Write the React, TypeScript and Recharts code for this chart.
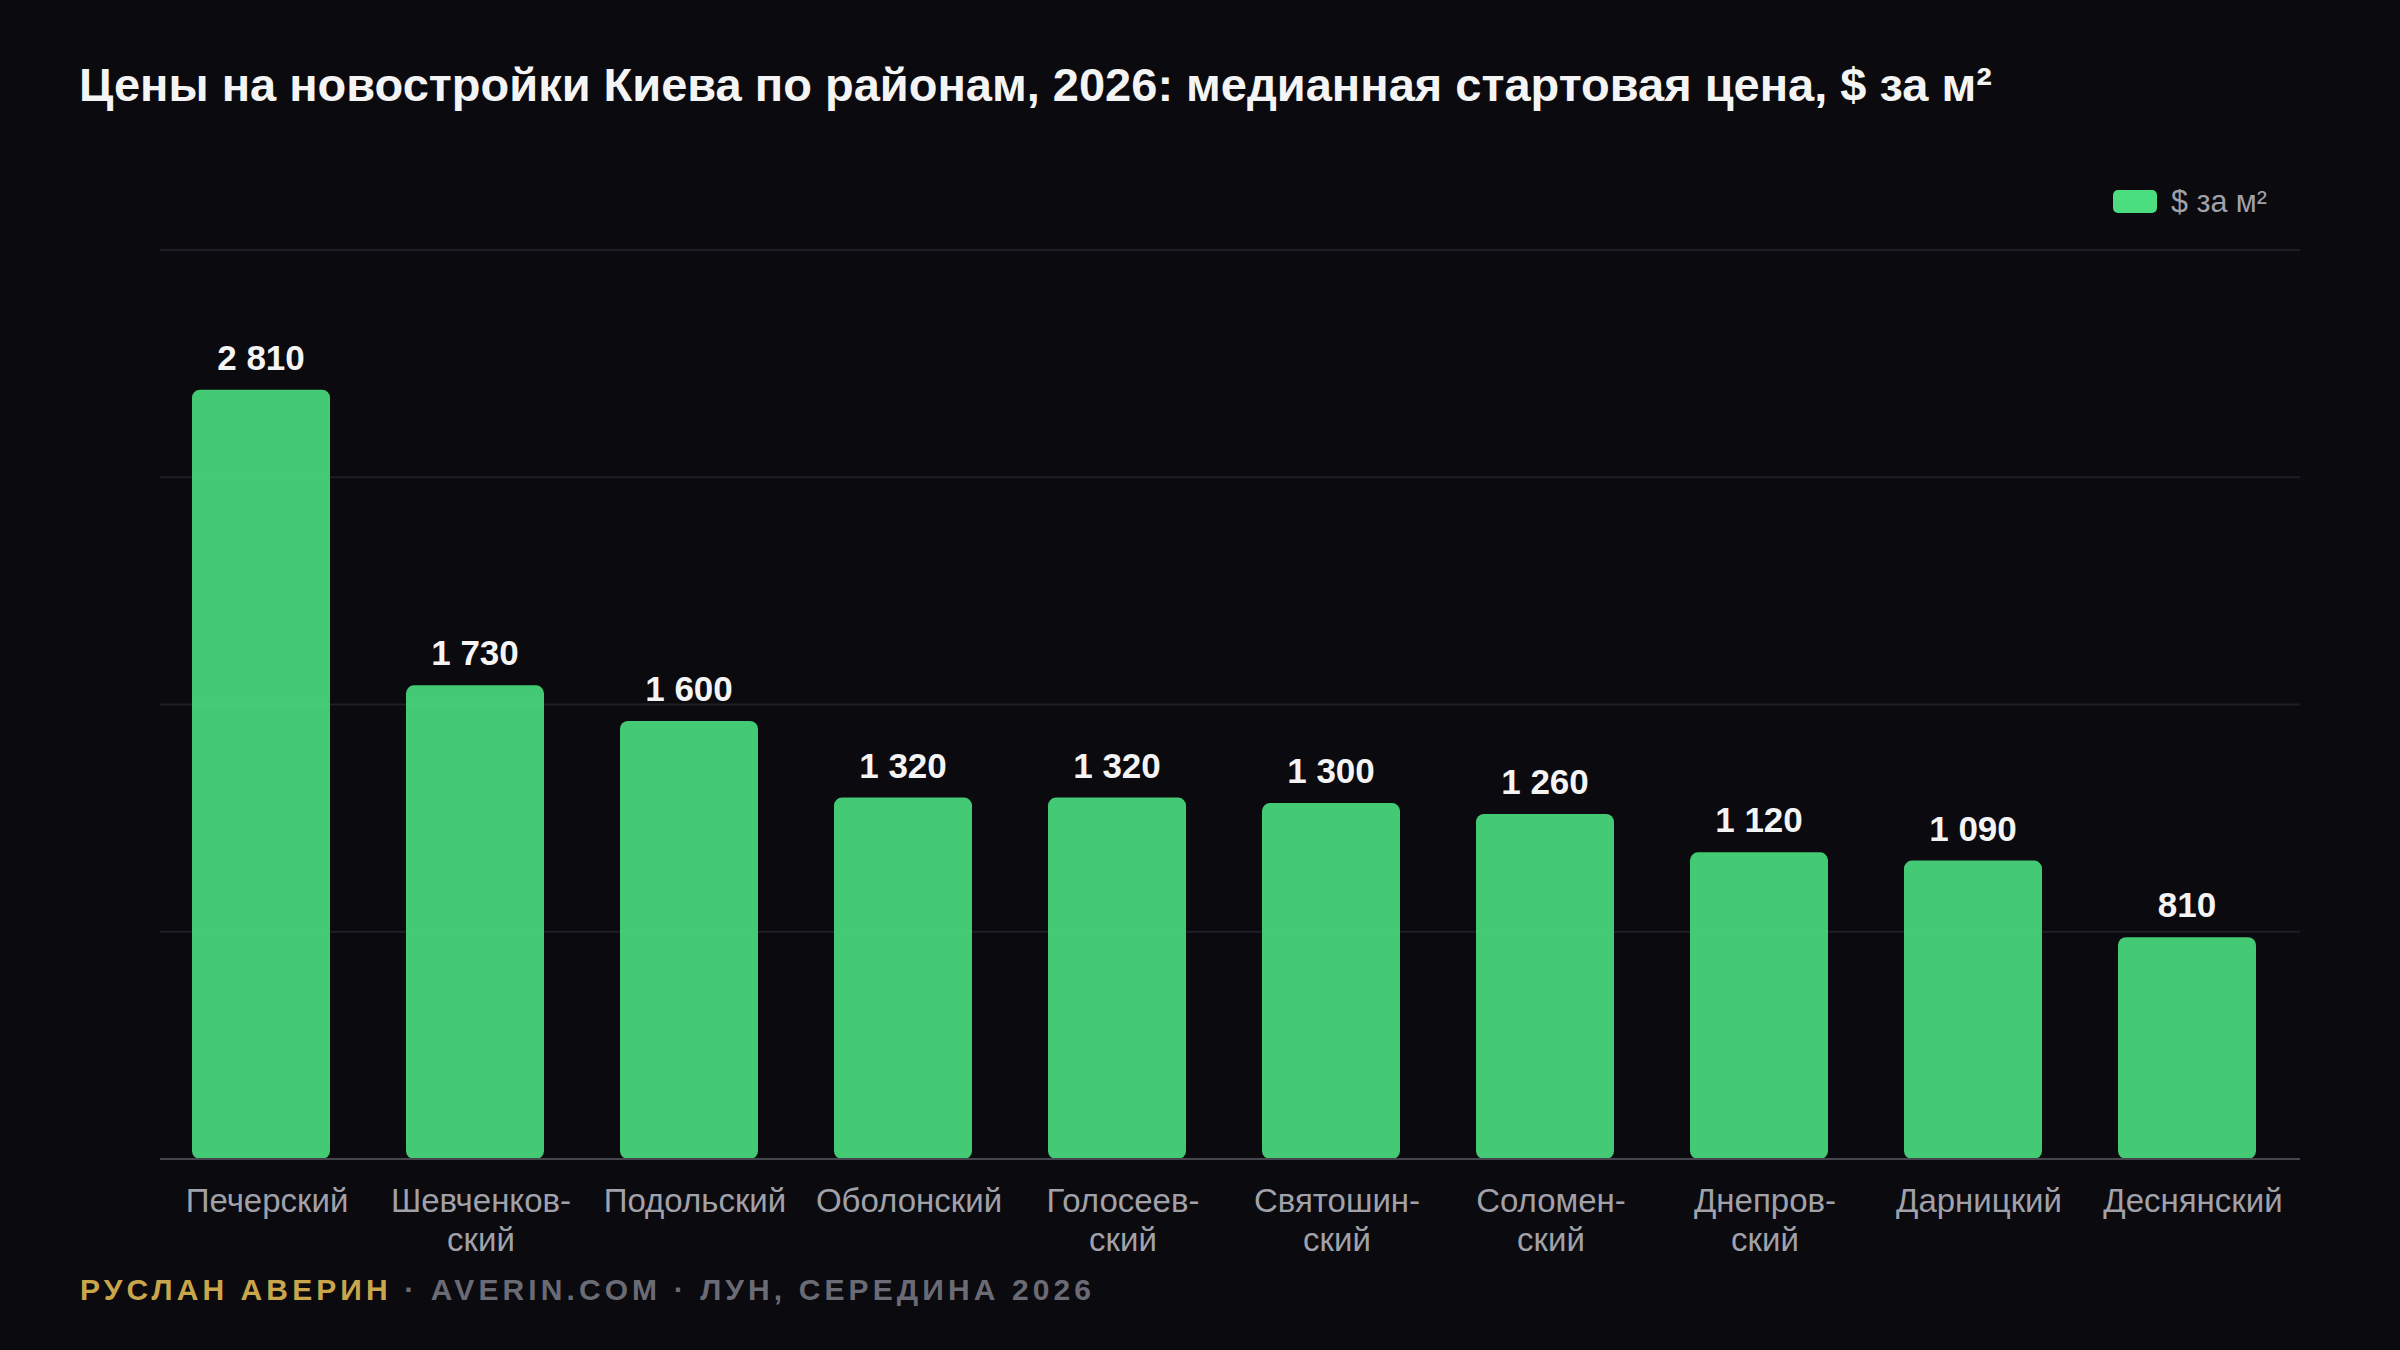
import React from 'react';
import {
  BarChart,
  Bar,
  XAxis,
  YAxis,
  CartesianGrid,
  Legend,
  LabelList,
  Rectangle,
} from 'recharts';

// Kyiv new-build median starting prices by district, mid-2026
const districts = [
  'Печерский',
  'Шевченков-\nский',
  'Подольский',
  'Оболонский',
  'Голосеев-\nский',
  'Святошин-\nский',
  'Соломен-\nский',
  'Днепров-\nский',
  'Дарницкий',
  'Деснянский',
];
const prices = [2810, 1730, 1600, 1320, 1320, 1300, 1260, 1120, 1090, 810];
const yTicks = [0, 830, 1660, 2490, 3320];
const seriesName = '$ за м²';

const data = districts.map((district, i) => ({ district, price: prices[i] }));

const FONT = '"Liberation Sans", Arial, Helvetica, sans-serif';
const BG = '#0a0a0f';
const GREEN = '#4ade80';

const fmt = (v: number) => String(v).replace(/\B(?=(\d{3})+(?!\d))/g, '\u00a0');

// bars sit a little left of the category centre in the original
const BarShape = (props: any) => <Rectangle {...props} x={props.x - 6} radius={8} />;

const PriceLabel = (props: any) => {
  const box = props.viewBox ?? props;
  const { x, y, width } = box;
  return (
    <text
      x={x + width / 2 - 6}
      y={y - 20}
      textAnchor="middle"
      fill="#f4f4f5"
      fontSize={35}
      fontWeight={700}
    >
      {fmt(props.value)}
    </text>
  );
};

const DistrictTick = ({ x, y, payload }: any) => {
  const lines = String(payload.value).split('\n');
  return (
    <text x={x} y={y} textAnchor="middle" fill="#a1a1aa" fontSize={33}>
      {lines.map((line, i) => (
        <tspan key={i} x={x} dy={i === 0 ? 53 : 39}>
          {line}
        </tspan>
      ))}
    </text>
  );
};

const LegendContent = () => (
  <div style={{ display: 'flex', alignItems: 'center', gap: 14 }}>
    <span
      style={{ display: 'inline-block', width: 44, height: 23, borderRadius: 5, background: GREEN }}
    />
    <span style={{ color: '#a1a1aa', fontSize: 30.5 }}>{seriesName}</span>
  </div>
);

export default function App() {
  return (
    <div
      style={{
        position: 'absolute',
        left: 0,
        top: 0,
        width: 2400,
        height: 1350,
        background: BG,
        overflow: 'hidden',
        fontFamily: FONT,
      }}
    >
      <BarChart
        width={2400}
        height={1350}
        data={data}
        margin={{ top: 250, right: 100, left: 160, bottom: 81 }}
      >
        <CartesianGrid vertical={false} stroke="#1e1e25" strokeWidth={2} />
        <XAxis
          dataKey="district"
          interval={0}
          height={110}
          tickLine={false}
          tickSize={0}
          tickMargin={0}
          axisLine={{ stroke: '#46464e', strokeWidth: 2 }}
          tick={<DistrictTick />}
        />
        <YAxis hide domain={[0, 3320]} ticks={yTicks} />
        <Legend
          layout="horizontal"
          verticalAlign="middle"
          align="center"
          content={<LegendContent />}
          wrapperStyle={{ top: 184, left: 2113, width: 'auto', height: 'auto' }}
        />
        <Bar
          dataKey="price"
          name={seriesName}
          fill={GREEN}
          fillOpacity={0.9}
          barSize={138}
          shape={<BarShape />}
          isAnimationActive={false}
        >
          <LabelList dataKey="price" position="top" content={<PriceLabel />} />
        </Bar>
      </BarChart>

      <div
        style={{
          position: 'absolute',
          left: 79,
          top: 61,
          fontSize: 47,
          lineHeight: '47px',
          fontWeight: 700,
          color: '#f4f4f5',
          whiteSpace: 'nowrap',
        }}
      >
        Цены на новостройки Киева по районам, 2026: медианная стартовая цена, $ за м²
      </div>

      <div
        style={{
          position: 'absolute',
          left: 80,
          top: 1275,
          fontSize: 30,
          lineHeight: '30px',
          fontWeight: 700,
          letterSpacing: 4.1,
          whiteSpace: 'nowrap',
        }}
      >
        <span style={{ color: '#c9a64b' }}>РУСЛАН АВЕРИН</span>
        <span style={{ color: '#6b6b75' }}> · AVERIN.COM · ЛУН, СЕРЕДИНА 2026</span>
      </div>
    </div>
  );
}
